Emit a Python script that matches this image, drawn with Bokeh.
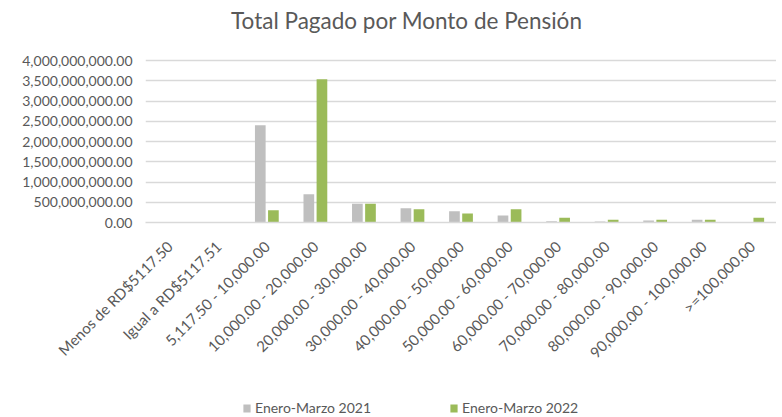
import math
from bokeh.plotting import figure
from bokeh.layouts import column
from bokeh.models import (ColumnDataSource, FactorRange, Range1d, NumeralTickFormatter,
                          FixedTicker, Legend, LegendItem, Label)
from bokeh.transform import dodge
from bokeh.embed import file_html
from bokeh.resources import INLINE

categories = ["Menos de RD$5117.50", "Igual a RD$5117.51", "5,117.50 - 10,000.00",
              "10,000.00 - 20,000.00", "20,000.00 - 30,000.00", "30,000.00 - 40,000.00",
              "40,000.00 - 50,000.00", "50,000.00 - 60,000.00", "60,000.00 - 70,000.00",
              "70,000.00 - 80,000.00", "80,000.00 - 90,000.00", "90,000.00 - 100,000.00",
              ">=100,000.00"]
v2021 = [0, 0, 2.40e9, 0.70e9, 0.46e9, 0.35e9, 0.28e9, 0.17e9, 0.03e9, 0.025e9, 0.05e9, 0.07e9, 0]
v2022 = [0, 0, 0.30e9, 3.54e9, 0.46e9, 0.33e9, 0.22e9, 0.33e9, 0.12e9, 0.07e9, 0.07e9, 0.07e9, 0.12e9]
y_ticks = [0, 5e8, 1e9, 1.5e9, 2e9, 2.5e9, 3e9, 3.5e9, 4e9]
series_names = ["Enero-Marzo 2021", "Enero-Marzo 2022"]
series_colors = ["#bfbfbf", "#9bbb59"]
title_text = "Total Pagado por Monto de Pensión"

FONT = "Lato"
TXT = "#595959"

# frame spans 2..222 px; the 4,000,000,000 gridline sits 162 px above zero
FRAME_H = 220
Y_END = 4e9 * FRAME_H / 162

src = ColumnDataSource(dict(cat=categories, a=v2021, b=v2022))

p = figure(x_range=FactorRange(*categories, range_padding=0), y_range=Range1d(0, Y_END),
           width=776, frame_width=631, frame_height=FRAME_H, output_backend="svg",
           toolbar_location=None,
           min_border_left=145, min_border_right=0, min_border_top=2, min_border_bottom=170)
p.outline_line_color = None
p.background_fill_color = "white"

title = Label(x=len(categories) * 0.414, y=4e9 * 202 / 162, text=title_text,
              text_font=FONT, text_font_size="22.5px", text_color=TXT,
              text_align="center", text_baseline="middle")
p.add_layout(title)

p.vbar(x=dodge("cat", -0.135, range=p.x_range), top="a", width=0.22, source=src,
       fill_color=series_colors[0], line_color=None)
p.vbar(x=dodge("cat", 0.135, range=p.x_range), top="b", width=0.22, source=src,
       fill_color=series_colors[1], line_color=None)

p.yaxis.ticker = FixedTicker(ticks=y_ticks)
p.yaxis.formatter = NumeralTickFormatter(format="0,0.00")
p.yaxis.axis_line_color = None
p.yaxis.major_tick_line_color = None
p.yaxis.minor_tick_line_color = None
p.yaxis.major_label_text_font = FONT
p.yaxis.major_label_text_font_size = "14px"
p.yaxis.major_label_text_color = TXT
p.yaxis.major_label_standoff = 7

p.xaxis.axis_line_color = "#d9d9d9"
p.xaxis.axis_line_width = 1.5
p.xaxis.major_tick_line_color = None
p.xaxis.minor_tick_line_color = None
p.xaxis.major_label_orientation = math.pi / 4
p.xaxis.major_label_text_font = FONT
p.xaxis.major_label_text_font_size = "15px"
p.xaxis.major_label_text_color = TXT
p.xaxis.major_label_standoff = 15

p.xgrid.grid_line_color = None
p.ygrid.grid_line_color = "#d9d9d9"
p.ygrid.grid_line_width = 1.5

# legend strip below the chart (swatch renderers sit outside the visible range)
leg_fig = figure(width=776, frame_width=631, frame_height=25, output_backend="svg",
                 toolbar_location=None, x_range=Range1d(0, 1), y_range=Range1d(0, 1),
                 min_border_left=145, min_border_right=0, min_border_top=0, min_border_bottom=0,
                 x_axis_type=None, y_axis_type=None)
leg_fig.outline_line_color = None
leg_fig.xgrid.visible = False
leg_fig.ygrid.visible = False
swatch = ColumnDataSource(dict(x=[-5.0], top=[0.0]))
l1 = leg_fig.vbar(x="x", top="top", width=0.1, source=swatch, fill_color=series_colors[0], line_color=None)
l2 = leg_fig.vbar(x="x", top="top", width=0.1, source=swatch, fill_color=series_colors[1], line_color=None)

legend = Legend(items=[LegendItem(label=series_names[0], renderers=[l1]),
                       LegendItem(label=series_names[1], renderers=[l2])],
                location=(97, 1), orientation="horizontal",
                glyph_width=9, glyph_height=10, label_standoff=4, spacing=78,
                label_text_font=FONT, label_text_font_size="14px", label_text_color=TXT,
                border_line_color=None, background_fill_alpha=0, padding=0, margin=0)
leg_fig.add_layout(legend, "center")

layout = column(p, leg_fig, spacing=0)

open("out.html", "w").write(file_html(layout, INLINE))
